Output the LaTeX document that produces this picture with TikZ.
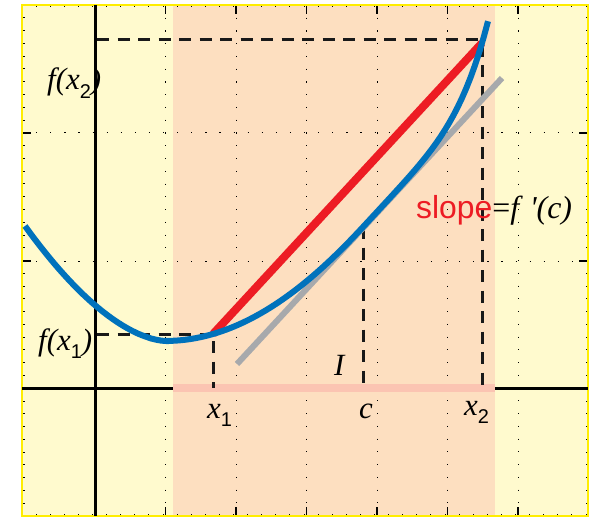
\documentclass[tikz,border=0pt]{standalone}
\usepackage{fontspec}
\setmainfont{Liberation Serif}
\setsansfont{Liberation Sans}
\newfontfamily\labelfont{Liberation Serif}
\newfontfamily\subfont{Liberation Sans}
\usepackage{tikz}

\definecolor{paleyellow}{RGB}{255,250,206}
\definecolor{intervalorange}{RGB}{253,223,192}
\definecolor{stripred}{RGB}{251,196,178}
\definecolor{curveblue}{RGB}{0,114,188}
\definecolor{chordred}{RGB}{237,28,36}
\definecolor{tangentgrey}{RGB}{167,169,172}
\definecolor{frameyellow}{RGB}{255,237,0}

\newcommand{\lowsub}[1]{\raisebox{-0.28em}{\fontsize{20}{20}\selectfont\subfont\upshape #1}}

\begin{document}
\begin{tikzpicture}[x=1bp, y=-1bp,
    guide/.style={black!90, line width=3bp, dash pattern=on 12bp off 8.5bp},
    vgrid/.style={black, line width=1bp, dash pattern=on 1.2bp off 11.55bp},
    hgrid/.style={black, line width=1bp, dash pattern=on 1.2bp off 12.9bp},
    axisline/.style={black, line width=3bp},
    lbl/.style={font=\fontsize{31}{31}\selectfont\labelfont\itshape, inner sep=0pt},
    ylbl/.style={font=\fontsize{31}{31}\selectfont\labelfont\itshape, inner sep=0pt}]

    \useasboundingbox (0,0) rectangle (596,518);
    \fill[paleyellow] (22,5) rectangle (588,516);
    \fill[intervalorange] (173,5) rectangle (495,516);

    % dotted grid
    \foreach \gx in {165.5,236,306.5,377,447.5,518}
        \draw[vgrid] (\gx,5) -- (\gx,516);
    \foreach \gy in {133,261}
        \draw[hgrid] (22,\gy) -- (588,\gy);

    % frame ticks
    \foreach \k in {0,...,40} {
        \draw[black, line width=0.9bp] (22+14.1*\k,5) -- ++(0,2.5);
        \draw[black, line width=0.9bp] (22+14.1*\k,516) -- ++(0,-2.5);
    }
    \foreach \k in {0,...,40} {
        \draw[black, line width=0.9bp] (22,5+12.775*\k) -- ++(2.5,0);
        \draw[black, line width=0.9bp] (588,5+12.775*\k) -- ++(-2.5,0);
    }
    \foreach \gx in {95,165.5,236,306.5,377,447.5,518} {
        \draw[black, line width=1.4bp] (\gx,5) -- ++(0,9);
        \draw[black, line width=1.4bp] (\gx,516) -- ++(0,-9);
    }
    \foreach \gy in {133,261,388} {
        \draw[black, line width=1.4bp] (22,\gy) -- ++(9,0);
        \draw[black, line width=1.4bp] (588,\gy) -- ++(-9,0);
    }
    \draw[frameyellow, line width=2.8bp] (22,5) rectangle (588,516);

    % axes and interval
    \draw[axisline] (22,388) -- (173,388);
    \draw[axisline] (495,388) -- (588,388);
    \draw[stripred, line width=8bp] (173,388) -- (495,388);
    \draw[axisline] (95,5) -- (95,516);

    \coordinate (p1) at (213,334);
    \coordinate (p2) at (482,43);
    \coordinate (pc) at (363,227);
    \coordinate (fx1) at (97,334);
    \coordinate (fx2) at (97,40);
    \coordinate (top2) at (482,40);
    \coordinate (tx1) at (213,388);
    \coordinate (tx2) at (482,388);
    \coordinate (tc) at (363,388);
    \coordinate (ta) at (237,364);
    \coordinate (tb) at (502,78);

    \draw[guide] (fx2) -- (top2) -- (tx2);
    \draw[guide] (fx1) -- (p1) -- (tx1);
    \draw[guide] (pc) -- (tc);

    \draw[tangentgrey, line width=6bp] (ta) -- (tb);
    \draw[chordred, line width=8bp] (p1) -- (p2);
    \draw[curveblue, line width=6bp]
        plot[domain=25:166, samples=30]
            (\x, {341 - 115*(max(166-\x,0.001)/141)^1.7})
        -- plot[domain=166:363, samples=40]
            (\x, {227 - 1.08*(\x-363) - 55*(max(363-\x,0.001)/150)^2.15})
        -- plot[domain=363:488, samples=30]
            (\x, {227 - 1.08*(\x-363) - 7.6*((\x-363)/80)^5});

    % labels
    \node[ylbl, anchor=base west] at (47,90) (lfx2) {f(x\lowsub{2})};
    \node[ylbl, anchor=base west] at (38,350) (lfx1) {f(x\lowsub{1})};
    \node[lbl, anchor=base west] at (207,418) (lx1) {x\lowsub{1}};
    \node[lbl, anchor=base west] at (359,418) (lc) {c};
    \node[lbl, anchor=base west] at (464,415) (lx2) {x\lowsub{2}};
    \node[lbl, anchor=base west] at (334,375) (li) {I};
    \node[inner sep=0pt, anchor=base west] at (416,219) (lslope)
        {\fontsize{32}{32}\selectfont\subfont\textcolor{chordred}{slope}%
         \labelfont =\itshape f\,\,'(c)};
\end{tikzpicture}
\end{document}
